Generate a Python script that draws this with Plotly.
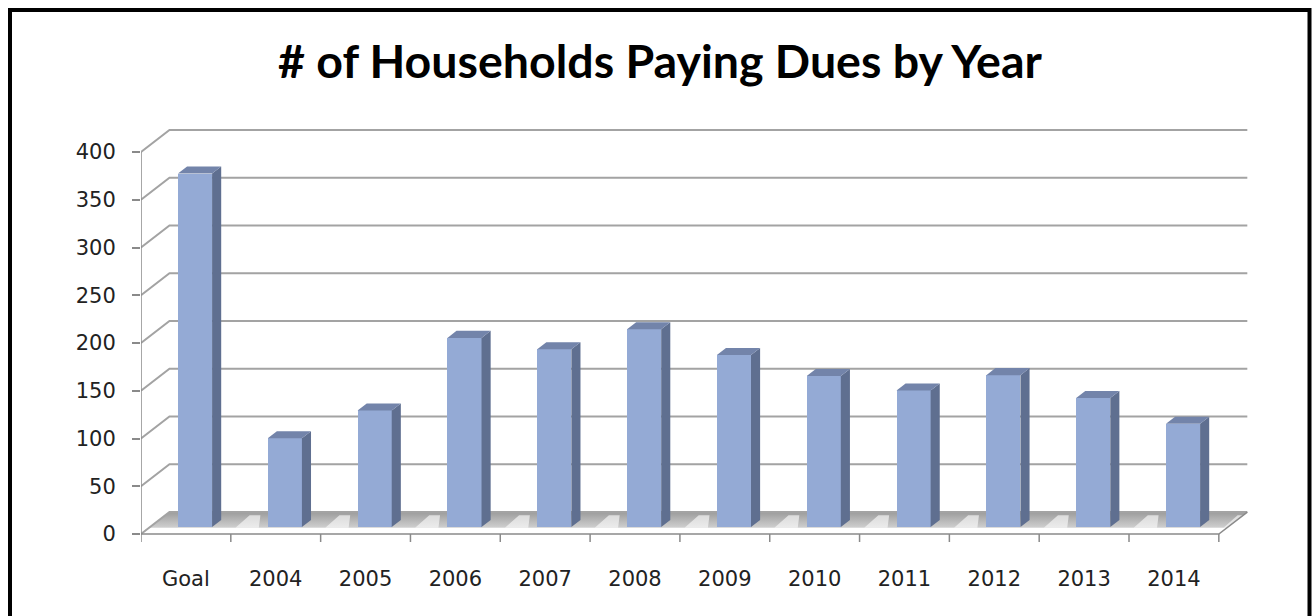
import plotly.graph_objects as go

# ---------------- data ----------------
categories = ["Goal", "2004", "2005", "2006", "2007", "2008", "2009",
              "2010", "2011", "2012", "2013", "2014"]
households = [370, 93, 122, 198, 186, 207, 180, 158, 143, 159, 135, 108]
y_ticks = [0, 50, 100, 150, 200, 250, 300, 350, 400]
title_text = "# of Households Paying Dues by Year"

# ---------------- pseudo-3D geometry (style) ----------------
DX = 0.317   # x-units per unit of depth
DY = 23.0    # value-units per unit of depth
BAR_W = 0.38
D0, D1 = 0.32, 0.64
N = len(categories)
X0, X1 = -0.5, N - 0.5
TICK_DROP = 8.4

GRID = "#a3a3a3"
AX = "#8a8a8a"
FRONT = "#94aad5"
SIDE = "#5f6f90"
TOP = "#7384aa"

W, H = 1312, 616
L, T, B = 141, 120, 70
CAT_PX = (1219 - 141) / N          # pixels per category
VAL_PX = (534 - 152) / 400         # pixels per value unit
XMAX = X1 + DX + 0.03
R = int(round(W - L - (XMAX - X0) * CAT_PX))
plot_h = H - T - B
YMIN = -(H - B - 534) / VAL_PX
YMAX = YMIN + plot_h / VAL_PX


def P(x, y, d):
    return x + d * DX, y + d * DY


def poly(points):
    xs = [p[0] for p in points] + [points[0][0]]
    ys = [p[1] for p in points] + [points[0][1]]
    return xs, ys


fig = go.Figure()

# floor shadow band
sx, sy = poly([P(X0, 0, D0 - 0.03), P(X1, 0, D0 - 0.03), P(X1, 0, 1), P(X0, 0, 1)])
fig.add_trace(go.Scatter(x=sx, y=sy, mode="lines", line=dict(width=0),
                         fill="toself",
                         fillgradient=dict(type="vertical",
                                           colorscale=[[0, "#cfcfcf"], [1, "#9c9c9c"]]),
                         hoverinfo="skip", showlegend=False))

# white streaks on the floor between bars
wx, wy = [], []
for i in range(N):
    a = i + 0.46
    b = i + 0.72
    xs, ys = poly([P(a, 0, D0 - 0.03), P(b, 0, D0 - 0.03), P(b - 0.16, 0, 0.85), P(a - 0.02, 0, 0.85)])
    wx += xs + [None]
    wy += ys + [None]
fig.add_trace(go.Scatter(x=wx, y=wy, mode="lines", line=dict(width=0),
                         fill="toself", fillcolor="rgba(255,255,255,0.6)",
                         hoverinfo="skip", showlegend=False))

# back-wall gridlines + side-wall diagonals
gx, gy = [], []
for v in y_ticks:
    a = P(X0, v, 0)
    b = P(X0, v, 1)
    c = P(X1, v, 1)
    gx += [a[0], b[0], c[0], None]
    gy += [a[1], b[1], c[1], None]
fig.add_trace(go.Scatter(x=gx, y=gy, mode="lines", line=dict(color=GRID, width=2),
                         hoverinfo="skip", showlegend=False))

# front floor edge, floor right edge, front-left vertical edge, category ticks
ex, ey = [], []
a, b = P(X1, 0, 0), P(X1, 0, 1)
ex += [X0, X1, b[0], None, X0, X0, None]
ey += [0, 0, b[1], None, 0, y_ticks[-1], None]
for k in range(N + 1):
    ex += [k - 0.5, k - 0.5, None]
    ey += [0, -TICK_DROP, None]
fig.add_trace(go.Scatter(x=ex, y=ey, mode="lines", line=dict(color=AX, width=1.5),
                         hoverinfo="skip", showlegend=False))

# bar front faces (overlay subplot so they sit above the floor)
fig.add_trace(go.Bar(x=[i + D0 * DX for i in range(N)], y=households,
                     base=D0 * DY, width=BAR_W,
                     marker=dict(color=FRONT, line=dict(width=0)),
                     hovertext=categories, showlegend=False,
                     xaxis="x2", yaxis="y2"))

# bar side faces and tops
sdx, sdy, tpx, tpy = [], [], [], []
for i, v in enumerate(households):
    l, r = i - BAR_W / 2, i + BAR_W / 2
    xs, ys = poly([P(r, 0, D0), P(r, 0, D1), P(r, v, D1), P(r, v, D0)])
    sdx += xs + [None]
    sdy += ys + [None]
    xs, ys = poly([P(l, v, D0), P(r, v, D0), P(r, v, D1), P(l, v, D1)])
    tpx += xs + [None]
    tpy += ys + [None]
fig.add_trace(go.Scatter(x=sdx, y=sdy, mode="lines", line=dict(width=0),
                         fill="toself", fillcolor=SIDE, xaxis="x2", yaxis="y2",
                         hoverinfo="skip", showlegend=False))
fig.add_trace(go.Scatter(x=tpx, y=tpy, mode="lines", line=dict(width=0),
                         fill="toself", fillcolor=TOP, xaxis="x2", yaxis="y2",
                         hoverinfo="skip", showlegend=False))

plot_w = W - L - R


def px_x(p):
    return (p - L) / plot_w


def px_y(p):
    return (H - B - p) / plot_h


fig.update_layout(
    width=W, height=H,
    margin=dict(l=L, r=R, t=T, b=B, pad=0),
    paper_bgcolor="white", plot_bgcolor="white",
    bargap=0,
    title=dict(text=title_text, x=0.503, xanchor="center",
               y=1 - 62 / H, yanchor="middle",
               font=dict(family="Lato", size=46.5, color="black", weight="bold")),
    xaxis=dict(range=[X0, XMAX], tickmode="array", tickvals=list(range(N)),
               ticktext=categories, ticks="", showgrid=False, zeroline=False,
               showline=False,
               tickfont=dict(family="DejaVu Sans", size=21, color="#222222"),
               ticklabelstandoff=18, fixedrange=True),
    yaxis=dict(range=[YMIN, YMAX], tickmode="array", tickvals=y_ticks,
               ticks="outside", ticklen=8, tickcolor=AX, tickwidth=1.5,
               showgrid=False, zeroline=False, showline=False,
               tickfont=dict(family="DejaVu Sans", size=21, color="#222222"),
               ticklabelstandoff=12, fixedrange=True),
    xaxis2=dict(overlaying="x", matches="x", visible=False, fixedrange=True),
    yaxis2=dict(overlaying="y", matches="y", visible=False, fixedrange=True),
    shapes=[dict(type="rect", xref="paper", yref="paper",
                 x0=px_x(10), x1=px_x(1309.5), y0=px_y(660), y1=px_y(10),
                 line=dict(color="black", width=4), fillcolor="rgba(0,0,0,0)",
                 layer="above")],
)

fig.write_html("out.html", config={"displayModeBar": False},
               post_script="document.body.style.margin='0';")
